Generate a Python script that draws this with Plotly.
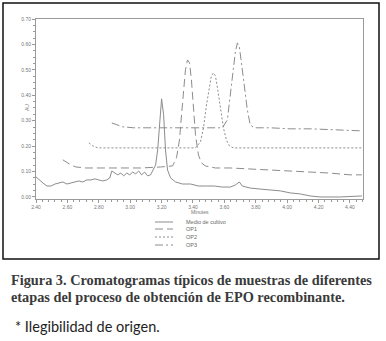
import plotly.graph_objects as go

# ---------------- data ----------------
medio_x = [2.400,2.419,2.444,2.470,2.495,2.521,2.546,2.571,2.597,2.622,2.648,2.673,2.698,2.724,2.749,2.775,2.800,2.825,2.851,
           2.870,2.883,2.902,2.921,2.940,2.959,2.978,2.997,3.016,3.035,3.054,3.073,3.092,3.111,3.130,3.149,
           3.162,3.175,3.187,3.200,3.213,3.225,3.238,3.257,3.289,
           3.333,3.384,3.435,3.486,3.537,3.587,3.638,3.670,3.695,3.714,3.765,
           3.829,3.892,3.956,4.019,4.083,4.146,4.210,4.337,4.476]
medio_y = [0.079,0.067,0.055,0.043,0.043,0.051,0.055,0.059,0.051,0.055,0.059,0.063,0.059,0.067,0.067,0.071,0.067,0.063,0.067,
           0.075,0.102,0.094,0.087,0.094,0.083,0.094,0.087,0.098,0.091,0.102,0.087,0.098,0.083,0.087,0.114,
           0.126,0.185,0.303,0.386,0.323,0.185,0.106,0.075,0.059,
           0.051,0.051,0.043,0.043,0.043,0.039,0.039,0.047,0.059,0.043,0.035,
           0.031,0.028,0.024,0.016,0.012,0.004,0.000,0.000,0.004]

op1_x = [2.571,2.597,2.622,2.654,2.717,2.813,2.940,3.067,3.194,3.257,
         3.270,3.295,3.314,3.327,3.340,3.352,3.365,3.378,3.390,3.403,3.416,3.435,3.454,3.479,
         3.543,3.638,3.765,3.892,4.019,4.146,4.273,4.400,4.476]
op1_y = [0.146,0.134,0.126,0.118,0.114,0.114,0.114,0.114,0.118,0.122,
         0.122,0.154,0.224,0.323,0.421,0.500,0.539,0.528,0.461,0.350,0.244,0.165,0.134,0.122,
         0.114,0.114,0.110,0.106,0.102,0.098,0.094,0.087,0.087]

op2_x = [2.737,2.762,2.794,2.876,3.003,3.130,3.257,3.384,
         3.416,3.448,3.467,3.486,3.505,3.517,3.530,3.543,3.556,3.575,3.594,3.613,3.632,3.657,
         3.765,3.956,4.146,4.337,4.476]
op2_y = [0.213,0.201,0.193,0.193,0.193,0.193,0.193,0.193,
         0.193,0.217,0.272,0.362,0.441,0.476,0.488,0.476,0.429,0.350,0.272,0.224,0.201,0.193,
         0.193,0.193,0.193,0.193,0.193]

op3_x = [2.883,2.914,2.952,3.022,3.130,3.257,3.384,3.511,3.587,
         3.619,3.638,3.657,3.670,3.683,3.695,3.708,3.727,3.746,3.765,3.790,
         3.892,4.019,4.146,4.273,4.400,4.476]
op3_y = [0.291,0.283,0.276,0.272,0.272,0.272,0.272,0.272,0.272,
         0.303,0.402,0.508,0.571,0.606,0.591,0.531,0.441,0.343,0.283,0.272,
         0.272,0.268,0.268,0.264,0.260,0.260]

series_names = ["Medio de cultivo", "OP1", "OP2", "OP3"]
series_dash = ["solid", "8px,4px", "2px,2px", "8px,3px,2px,3px"]

x_tickvals = [2.40,2.60,2.80,3.00,3.20,3.40,3.60,3.80,4.00,4.20,4.40]
x_ticktext = ["2.40","2.60","2.80","3.00","3.20","3.40","3.60","3.80","4.00","4.20","4.40"]
y_tickvals = [0.0,0.1,0.2,0.3,0.4,0.5,0.6,0.7]
y_ticktext = ["0.00","0.10","0.20","0.30","0.40","0.50","0.60","0.70"]

caption_1 = "Figura 3. Cromatogramas típicos de muestras de diferentes"
caption_2 = "etapas del proceso de obtención de EPO recombinante."
note = "* Ilegibilidad de origen."

# ---------------- layout helpers ----------------
W, H = 386, 341
L, R, T, B = 36, 363, 19, 199

def px(x):
    return (x - L) / (R - L)

def py(y):
    return (B - y) / (B - T)

LINE = "#8c8c8c"
AX = "#9a9a9a"

fig = go.Figure()
for xs, ys, name, dash in zip([medio_x, op1_x, op2_x, op3_x],
                              [medio_y, op1_y, op2_y, op3_y],
                              series_names, series_dash):
    fig.add_trace(go.Scatter(x=xs, y=ys, mode="lines", name=name,
                             line=dict(color=LINE, width=1, dash=dash),
                             showlegend=False, hoverinfo="skip"))

fig.update_xaxes(range=[2.40, 4.483], tickvals=x_tickvals, ticktext=x_ticktext,
                 showgrid=False, zeroline=False, showline=True, linecolor=AX, linewidth=1,
                 mirror=True, ticks="outside", ticklen=3, tickcolor=AX,
                 tickfont=dict(size=5, color="#777", family="Liberation Sans"),
                 minor=dict(ticks="outside", ticklen=2, tickcolor=AX, dtick=0.04, showgrid=False))
fig.update_yaxes(range=[-0.008, 0.70], tickvals=y_tickvals, ticktext=y_ticktext,
                 showgrid=False, zeroline=False, showline=True, linecolor=AX, linewidth=1,
                 mirror=True, ticks="outside", ticklen=3, tickcolor=AX,
                 tickfont=dict(size=5, color="#777", family="Liberation Sans"),
                 minor=dict(ticks="outside", ticklen=2, tickcolor=AX, dtick=0.025, showgrid=False))

shapes = []
annotations = []
# outer frame
shapes.append(dict(type="rect", xref="paper", yref="paper",
                   x0=px(3), x1=px(379), y0=py(3), y1=py(259),
                   line=dict(color="#111", width=1.5)))
# legend
leg_y = [222, 229, 237, 245]
for yy, name, dash in zip(leg_y, series_names, series_dash):
    shapes.append(dict(type="line", xref="paper", yref="paper",
                       x0=px(155), x1=px(173), y0=py(yy), y1=py(yy),
                       line=dict(color=LINE, width=1, dash=dash)))
    annotations.append(dict(text=name, xref="paper", yref="paper", x=px(184), y=py(yy),
                            xanchor="left", yanchor="middle", showarrow=False,
                            font=dict(size=5.5, color="#666", family="Liberation Sans")))
# axis titles
annotations.append(dict(text="Minutes", xref="paper", yref="paper", x=px(200), y=py(212),
                        xanchor="center", yanchor="middle", showarrow=False,
                        font=dict(size=5, color="#777", family="Liberation Sans")))
annotations.append(dict(text="AU", xref="paper", yref="paper", x=px(27), y=py(108),
                        xanchor="center", yanchor="middle", showarrow=False, textangle=-90,
                        font=dict(size=5, color="#777", family="Liberation Sans")))
# caption
for txt, yy in [(caption_1, 280), (caption_2, 297)]:
    annotations.append(dict(text="<b>" + txt + "</b>", xref="paper", yref="paper",
                            x=px(9), y=py(yy), xanchor="left", yanchor="middle",
                            showarrow=False,
                            font=dict(size=14.3, color="#3a3a3a", family="Liberation Serif")))
annotations.append(dict(text=note, xref="paper", yref="paper", x=px(13), y=py(326),
                        xanchor="left", yanchor="middle", showarrow=False,
                        font=dict(size=14.5, color="#222", family="Lato")))

fig.update_layout(width=W, height=H, margin=dict(l=L, r=W - R, t=T, b=H - B),
                  paper_bgcolor="white", plot_bgcolor="white",
                  shapes=shapes, annotations=annotations, showlegend=False)

fig.write_html("out.html", config={"displayModeBar": False},
               post_script="document.body.style.margin='0';document.body.style.overflow='hidden';")
